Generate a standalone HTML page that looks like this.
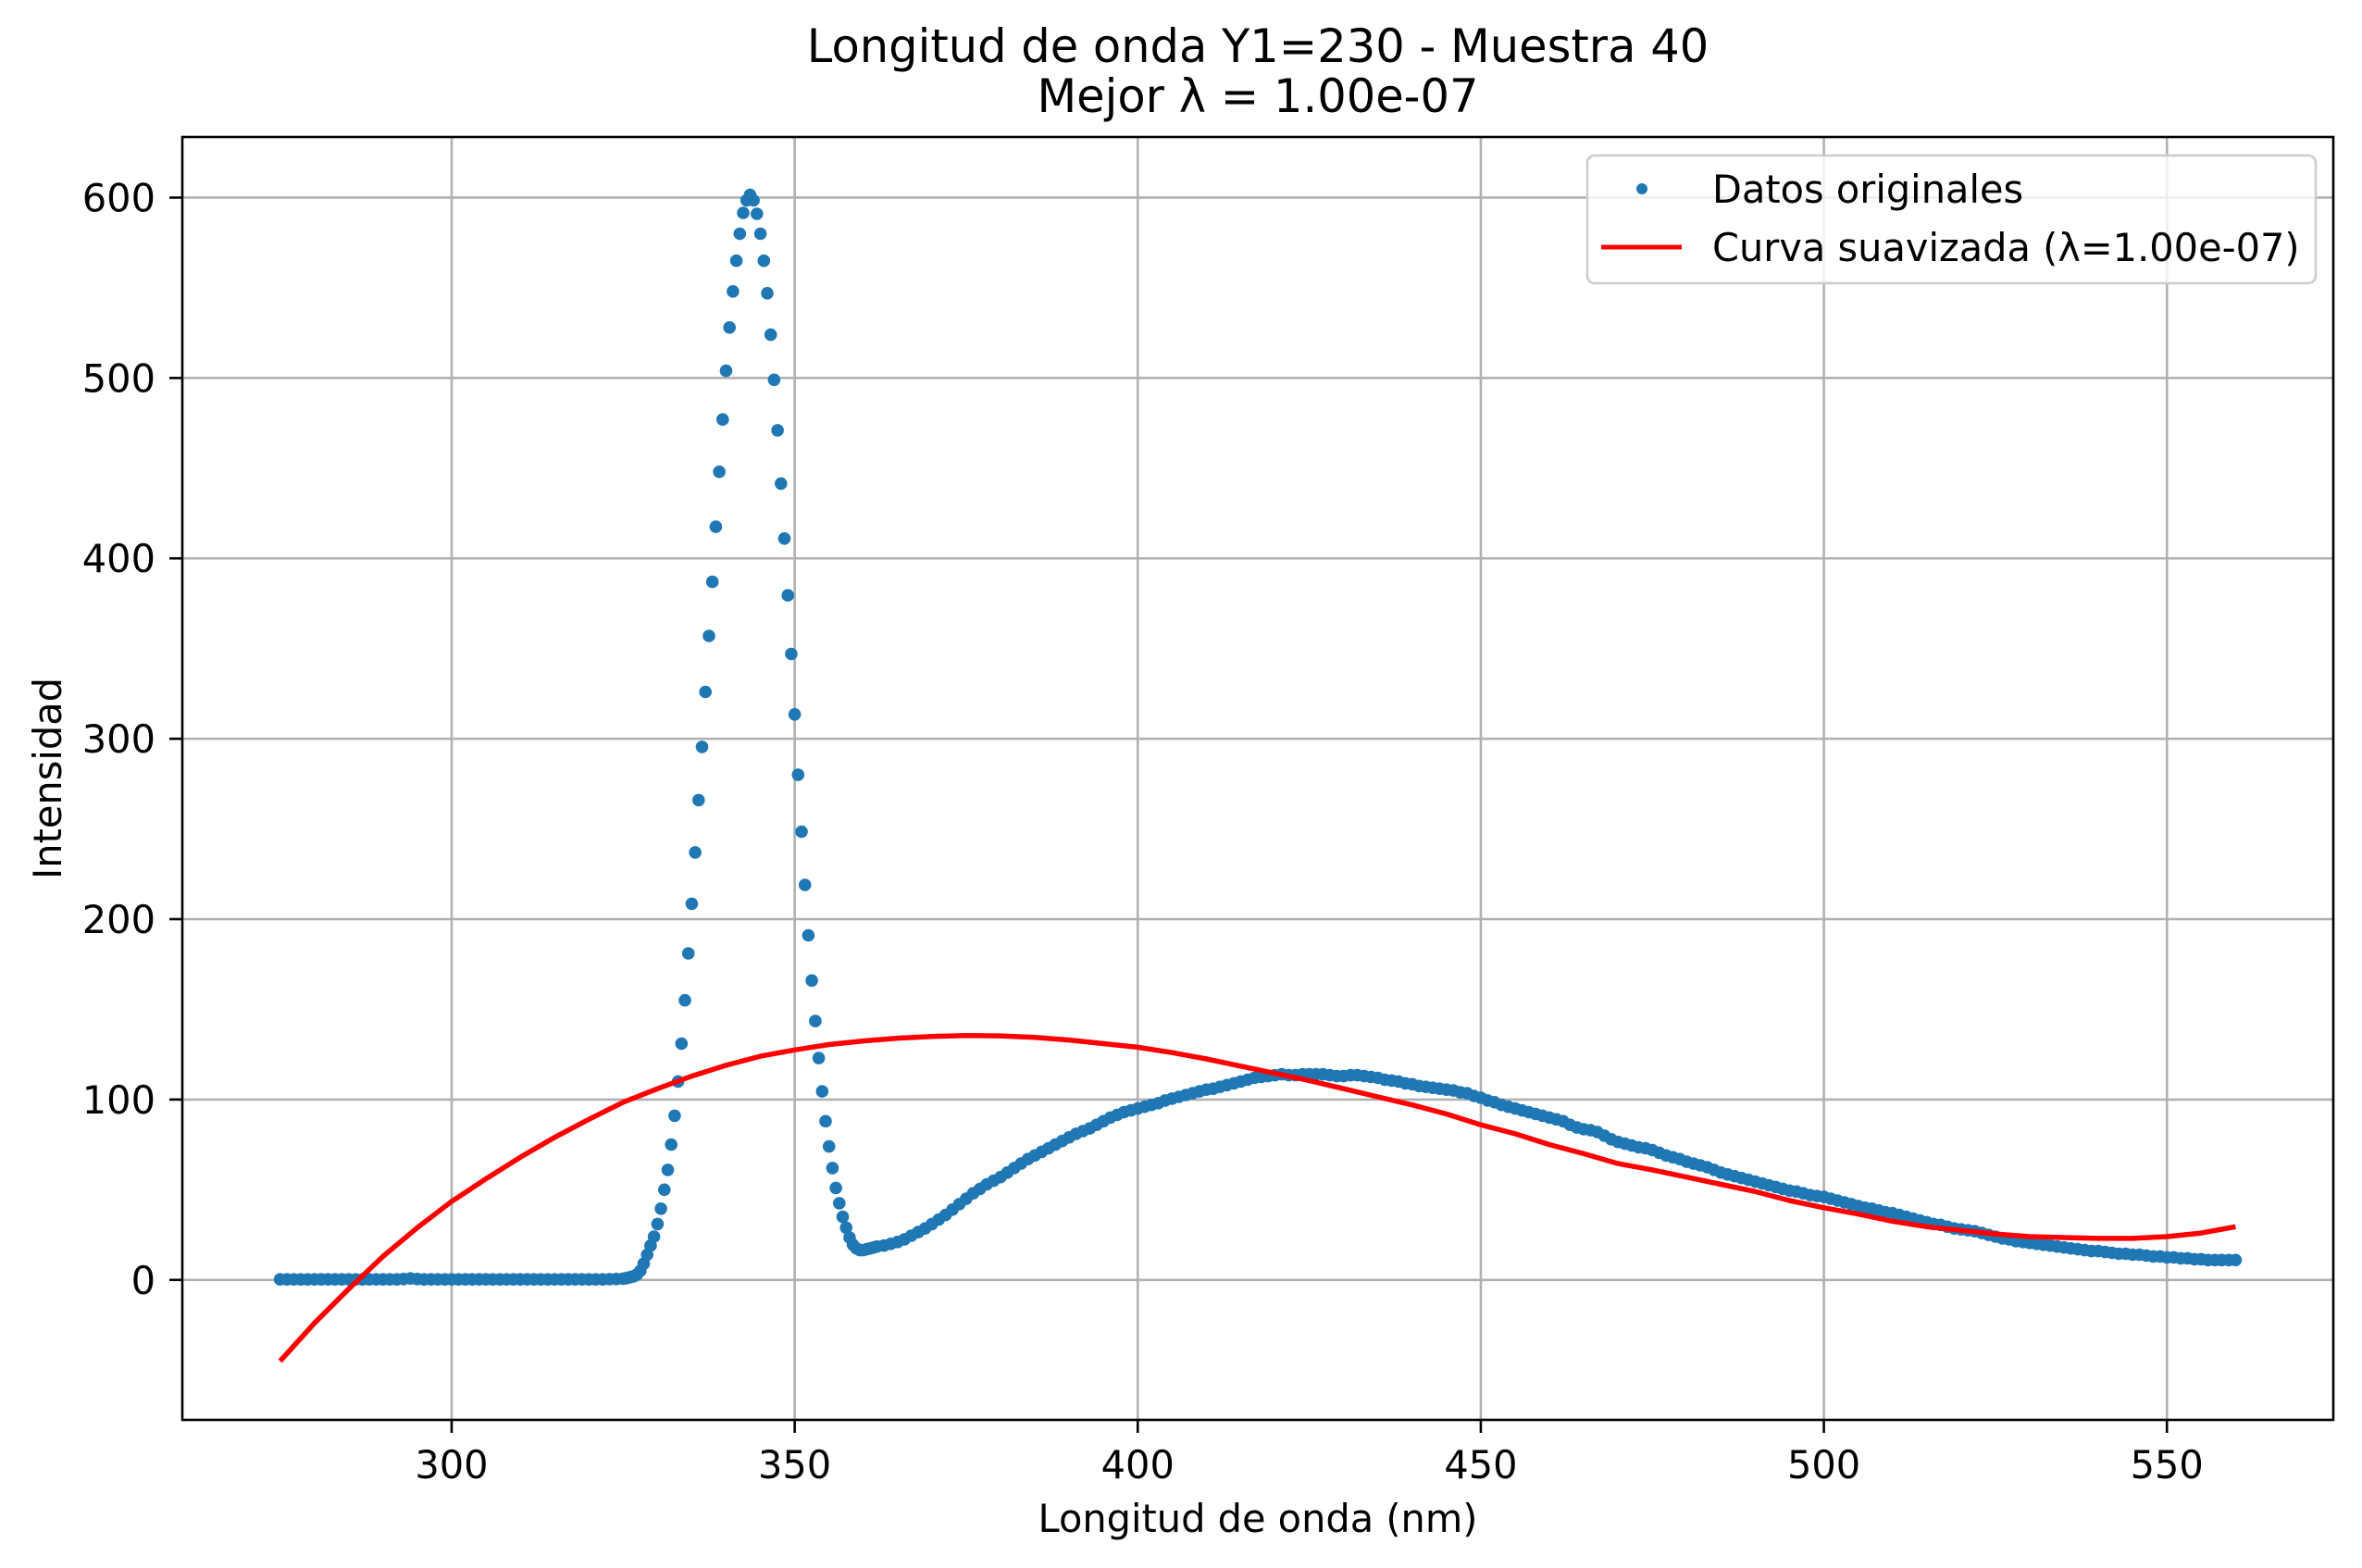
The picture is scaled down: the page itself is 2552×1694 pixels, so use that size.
<!DOCTYPE html>
<html><head><meta charset="utf-8">
<style>
html,body{margin:0;padding:0;background:#fff;}
svg{display:block;font-family:"DejaVu Sans","Liberation Sans",sans-serif;}
</style></head>
<body>
<svg id="chart" width="2552" height="1694" viewBox="0 0 2552 1694" xmlns="http://www.w3.org/2000/svg">
<rect x="0" y="0" width="2552" height="1694" fill="#fff"/>
<text x="1359" y="67" text-anchor="middle" font-size="49.5">Longitud de onda Y1=230 - Muestra 40</text>
<text x="1359" y="121" text-anchor="middle" font-size="49.5">Mejor λ = 1.00e-07</text>
<g id="grid"></g>
<g id="ticks"></g>
<g id="plot"></g>
<rect x="197" y="148" width="2324" height="1386" fill="none" stroke="#000" stroke-width="2.6"/>
<text x="1359" y="1655" text-anchor="middle" font-size="41.5">Longitud de onda (nm)</text>
<text x="0" y="0" transform="translate(66,841) rotate(-90)" text-anchor="middle" font-size="41.5">Intensidad</text>
<g>
<rect x="1715" y="168" width="787" height="138" rx="8" fill="#fff" fill-opacity="0.8" stroke="#cccccc" stroke-width="2.6"/>
<circle cx="1774" cy="204" r="6" fill="#1f77b4"/>
<text x="1850" y="219" font-size="41.5">Datos originales</text>
<line x1="1730" y1="267" x2="1817" y2="267" stroke="#ff0000" stroke-width="5"/>
<text x="1850" y="282" font-size="41.5">Curva suavizada (λ=1.00e-07)</text>
</g>
</svg>
<script>
// x tick labels
const xTicks = [300, 350, 400, 450, 500, 550];
const yTicks = [0, 100, 200, 300, 400, 500, 600];
// flat region 275..325 step 1
const blueFlat = [0.3,0.3,0.3,0.3,0.3,0.3,0.3,0.3,0.3,0.3,0.3,0.3,0.3,0.3,0.3,0.3,0.3,0.3,0.5,0.8,0.5,0.3,0.3,0.3,0.3,0.3,0.3,0.3,0.3,0.3,0.3,0.3,0.3,0.3,0.3,0.3,0.3,0.3,0.3,0.3,0.3,0.3,0.3,0.3,0.3,0.3,0.3,0.3,0.4,0.5,0.7];
// peak region 325.5..362 step 0.5
const bluePeak = [1,1.5,2,3,5,9,14,19,24,31,39.5,50,61,75,91,110,131,155,181,208.5,237,266,295.5,326,357,387,417.5,448,477,504,528,548,565,580,591.5,598.5,601.5,598.5,591,580,565,547,524,499,471,441.5,411,379.5,347,313.5,280,248.5,219,191,166,143.5,123,104.5,88,74,62,51,42.5,35,29,23.5,19.5,17.5,16.5,16.5,17,17.5,18,18.5];
// broad band 363..560 step 1
const blueBand = [19,20,21,22.5,24.5,26.5,28.5,31,33.5,36,39,42,45,48,50.5,53,55,57,59.5,62,64.5,67,69,71,73,75,77,79,81,82.5,84,86,88,90,91.5,93,94,95,96,97,98,99.5,100.5,101.5,102.5,103.5,104.5,105.5,106,107,108,109,110,111,112,112.5,113,113.5,114,113.5,113.5,114,114,114,114,113.5,113,113,113.5,113.5,113,112.5,112,111,110.5,110,109,108.5,107.5,107,106.5,106,105.5,105,104,103.5,102,101,99.5,98.5,97,96,95,94,93,92,91,90,89,88,86,84.5,83.5,83,82,80,78,76.5,75.5,74.5,73.5,73,72,70.5,69,68,67,65.5,64.5,63.5,62.5,61,59.5,58.5,57.5,56.5,55.5,54.5,53.5,52.5,51.5,50.5,49.5,49,48,47,46.5,46,45,44,43,42,41,40,39.5,38.5,37.5,37,36,35,34,33,32,31,30.5,29.5,28.5,28,27.5,27,26,25,24,23,22.5,21.5,21,20.5,20,19.5,19,18.5,18,17.5,17,16.5,16,16,15.5,15,14.5,14.5,14,14,13.5,13,13,12.5,12.5,12,12,11.5,11.5,11,11,11,11,11];
// smoothed curve, 275..560 step 5
const redCurve = [-45,-24,-5,13,29,43.5,56,68,79,89,98.5,106,113,119,124,127.5,130.5,132.5,134,135,135.5,135.3,134.5,133,131,129,126,122.5,118.5,114.5,110.5,106,101.5,97,92,86,81,75,70,64.5,61,57,53,49,44,40,36.5,32.5,29.5,27.5,25.5,24,23.5,23,23,24,26,29.5];

const NS = "http://www.w3.org/2000/svg";
const L = 197, R = 2521, T = 148, B = 1534;
const X0 = 260.75, X1 = 574.25, Y0 = -77.6, Y1 = 633.6;
function sx(v){ return L + (v - X0) / (X1 - X0) * (R - L); }
function sy(v){ return B - (v - Y0) / (Y1 - Y0) * (B - T); }
function mk(tag, attrs, parent){ const e = document.createElementNS(NS, tag); for (const k in attrs) e.setAttribute(k, attrs[k]); parent.appendChild(e); return e; }

const grid = document.getElementById('grid');
const ticks = document.getElementById('ticks');
xTicks.forEach(t => {
  const gl = mk('line', {x1: sx(t), x2: sx(t), y1: T, y2: B, stroke: '#b0b0b0', 'stroke-width': 2.6}, grid);
  
  
  const tm = mk('line', {x1: sx(t), x2: sx(t), y1: B, y2: B + 14, stroke: '#000', 'stroke-width': 2.6}, ticks);
  
  
  const tl = mk('text', {x: sx(t), y: 1597, 'text-anchor': 'middle', 'font-size': 41.5}, ticks);
  tl.textContent = t;
  
  
});
yTicks.forEach(t => {
  const gl = mk('line', {x1: L, x2: R, y1: sy(t), y2: sy(t), stroke: '#b0b0b0', 'stroke-width': 2.6}, grid);
  
  
  const tm = mk('line', {x1: L - 14, x2: L, y1: sy(t), y2: sy(t), stroke: '#000', 'stroke-width': 2.6}, ticks);
  
  
  const tl = mk('text', {x: 168, y: sy(t) + 15, 'text-anchor': 'end', 'font-size': 41.5}, ticks);
  tl.textContent = t;
  
  
});

const plot = document.getElementById('plot');
const clip = mk('clipPath', {id: 'clipAx'}, plot);
mk('rect', {x: L, y: T, width: R - L, height: B - T}, clip);

const pts = [];
blueFlat.forEach((v, i) => pts.push([275 + i, v]));
bluePeak.forEach((v, i) => pts.push([325.5 + i * 0.5, v]));
blueBand.forEach((v, i) => pts.push([363 + i, v]));
const dots = mk('g', {fill: '#1f77b4', 'clip-path': 'url(#clipAx)'}, plot);


pts.forEach(p => {
  const c = mk('circle', {cx: sx(p[0]).toFixed(1), cy: sy(p[1]).toFixed(1), r: 6.8}, dots);
  
  
});

const d = redCurve.map((v, i) => (i ? 'L' : 'M') + sx(275 + i * 5).toFixed(1) + ',' + sy(v).toFixed(1)).join(' ');
const line = mk('path', {d: d, fill: 'none', stroke: '#ff0000', 'stroke-width': 5.5, 'stroke-linejoin': 'round', 'clip-path': 'url(#clipAx)'}, plot);


</script>
</body></html>
